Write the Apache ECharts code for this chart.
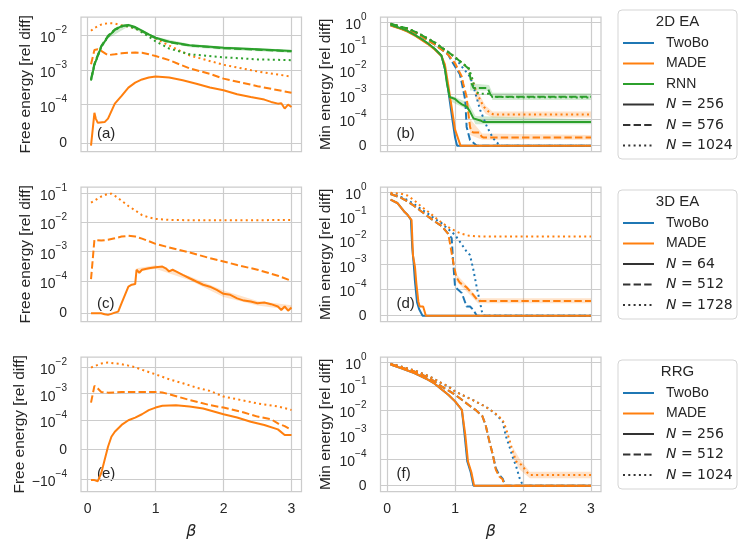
<!DOCTYPE html>
<html>
<head>
<meta charset="utf-8">
<script src="https://cdn.jsdelivr.net/npm/echarts@6/dist/echarts.min.js"></script>
<style>
html, body { margin: 0; padding: 0; background: #fff; }
#chart { width: 747px; height: 550px; }
</style>
</head>
<body>
<div id="chart"></div>
<script>
// ---- data: [beta, relative difference] ----
var xTicks = [0, 1, 2, 3];
var yTicksA = [0, 1e-4, 1e-3, 1e-2];
var yTicksB = [0, 1e-4, 1e-3, 1e-2, 1e-1, 1];
var yTicksC = [0, 1e-4, 1e-3, 1e-2, 1e-1];
var yTicksE = [-1e-4, 0, 1e-4, 1e-3, 1e-2];

// (a) 2D EA free energy
var a_MADE_256 = [[0.05,-6e-6],[0.1,7.9e-5],[0.12,6.4e-5],[0.15,5.3e-5],[0.25,5.5e-5],[0.3,6.4e-5],[0.4,1.07e-4],[0.5,1.8e-4],[0.6,3.1e-4],[0.7,4.3e-4],[0.8,5.3e-4],[0.9,6e-4],[1.0,6.4e-4],[1.2,6e-4],[1.4,5e-4],[1.6,4e-4],[1.8,3.1e-4],[2.0,2.6e-4],[2.2,2e-4],[2.4,1.66e-4],[2.6,1.4e-4],[2.7,1.2e-4],[2.8,1.07e-4],[2.85,1.1e-4],[2.9,9e-5],[2.95,1e-4],[3.0,9.4e-5]];
var a_MADE_576 = [[0.05,1.46e-3],[0.1,3.7e-3],[0.15,3.9e-3],[0.2,3.5e-3],[0.3,2.65e-3],[0.4,2.8e-3],[0.5,3e-3],[0.6,3.1e-3],[0.7,3.15e-3],[0.8,3.1e-3],[0.9,2.8e-3],[1.0,2.5e-3],[1.2,1.9e-3],[1.5,1.1e-3],[1.8,7.7e-4],[2.0,5.6e-4],[2.5,3.4e-4],[3.0,2.2e-4]];
var a_MADE_1024 = [[0.05,1.33e-2],[0.1,1.6e-2],[0.2,2e-2],[0.3,2.2e-2],[0.4,2.15e-2],[0.5,1.9e-2],[0.6,1.75e-2],[0.7,1.55e-2],[0.8,1.25e-2],[0.9,1e-2],[1.0,8e-3],[1.2,5e-3],[1.5,2.6e-3],[2.0,1.4e-3],[2.5,9e-4],[3.0,6.4e-4]];
var a_RNN_256 = [[0.05,5e-4],[0.1,1.4e-3],[0.2,4.6e-3],[0.3,9e-3],[0.4,1.4e-2],[0.5,1.8e-2],[0.6,1.95e-2],[0.7,1.7e-2],[0.8,1.35e-2],[0.9,1.05e-2],[1.0,8.4e-3],[1.2,6.4e-3],[1.5,5.1e-3],[2.0,4.3e-3],[2.5,3.9e-3],[3.0,3.5e-3]];
var a_RNN_576 = [[0.05,5.5e-4],[0.1,1.5e-3],[0.2,4.8e-3],[0.3,9.5e-3],[0.4,1.45e-2],[0.5,1.85e-2],[0.6,1.9e-2],[0.7,1.65e-2],[0.8,1.3e-2],[0.9,1.02e-2],[1.0,8.2e-3],[1.2,6.2e-3],[1.5,5e-3],[2.0,4.2e-3],[2.5,3.8e-3],[3.0,3.4e-3]];
var a_RNN_1024 = [[0.05,5e-4],[0.1,1.4e-3],[0.2,4.5e-3],[0.3,9e-3],[0.4,1.4e-2],[0.5,1.75e-2],[0.6,1.8e-2],[0.7,1.55e-2],[0.8,1.2e-2],[0.9,9e-3],[1.0,6.6e-3],[1.2,4.1e-3],[1.5,2.8e-3],[2.0,2.3e-3],[2.5,2e-3],[3.0,1.9e-3]];
var a_RNN_band = [[0.3,8e-3,1.05e-2],[0.6,1.75e-2,2.1e-2],[1.0,7.4e-3,9e-3],[1.5,4.5e-3,5.5e-3],[2.0,3.8e-3,4.7e-3],[3.0,3.1e-3,3.8e-3]];

// (b) 2D EA min energy
var b_TwoBo_256 = [[0.05,0.75],[0.2,0.55],[0.3,0.42],[0.4,0.3],[0.5,0.2],[0.6,0.13],[0.7,0.078],[0.8,0.04],[0.85,0.012],[0.9,1.5e-3],[0.95,1.5e-4],[1.0,3e-5],[1.03,0],[3.0,0]];
var b_TwoBo_576 = [[0.05,0.85],[0.2,0.63],[0.3,0.5],[0.4,0.38],[0.5,0.27],[0.6,0.18],[0.7,0.12],[0.8,0.075],[0.9,0.045],[0.95,0.025],[1.0,0.0146],[1.07,7e-3],[1.1,3e-3],[1.15,6e-4],[1.17,7e-5],[1.22,2.1e-5],[1.32,0],[3.0,0]];
var b_TwoBo_1024 = [[0.05,0.88],[0.2,0.66],[0.3,0.55],[0.4,0.42],[0.5,0.3],[0.6,0.21],[0.7,0.145],[0.8,0.09],[0.9,0.058],[1.0,0.034],[1.1,0.0146],[1.22,5.6e-3],[1.27,2.2e-3],[1.37,2.3e-4],[1.47,7e-5],[1.56,2.75e-5],[1.66,0],[3.0,0]];
var b_MADE_256 = [[0.05,0.73],[0.2,0.54],[0.3,0.41],[0.4,0.29],[0.5,0.19],[0.6,0.125],[0.7,0.075],[0.8,0.04],[0.85,0.018],[0.9,2.5e-3],[0.95,3e-4],[1.0,6e-5],[1.08,0],[3.0,0]];
var b_MADE_576 = [[0.05,0.85],[0.2,0.63],[0.3,0.5],[0.4,0.38],[0.5,0.27],[0.6,0.18],[0.7,0.12],[0.8,0.075],[0.9,0.045],[1.0,0.02],[1.1,5.6e-3],[1.12,2.9e-3],[1.17,8.3e-4],[1.19,2.3e-4],[1.22,7e-5],[1.24,5.2e-5],[1.27,4.9e-5],[1.36,4.9e-5],[1.39,3.4e-5],[1.42,3e-5],[3.0,3e-5]];
var b_MADE_1024 = [[0.05,0.88],[0.2,0.66],[0.3,0.55],[0.4,0.42],[0.5,0.3],[0.6,0.21],[0.7,0.145],[0.8,0.09],[0.9,0.058],[1.0,0.036],[1.1,0.021],[1.2,0.012],[1.22,6.6e-3],[1.27,3e-3],[1.32,1.2e-3],[1.37,6e-4],[1.42,3.2e-4],[1.47,2.3e-4],[1.52,1.7e-4],[1.57,1.5e-4],[3.0,1.5e-4]];
var b_RNN_256 = [[0.05,0.78],[0.2,0.57],[0.3,0.44],[0.4,0.31],[0.5,0.21],[0.6,0.135],[0.7,0.08],[0.8,0.042],[0.85,0.012],[0.88,3e-3],[0.92,8e-4],[1.0,6.6e-4],[1.05,5e-4],[1.1,4e-4],[1.17,3.2e-4],[1.22,2e-4],[1.27,1.05e-4],[1.37,9.4e-5],[1.42,8.8e-5],[3.0,8.8e-5]];
var b_RNN_576 = [[0.05,0.88],[0.2,0.66],[0.3,0.55],[0.4,0.42],[0.5,0.3],[0.6,0.21],[0.7,0.145],[0.8,0.09],[0.9,0.058],[1.0,0.036],[1.1,0.021],[1.2,0.012],[1.24,3e-3],[1.27,1.9e-3],[1.48,1.9e-3],[1.52,1e-3],[1.56,8.3e-4],[3.0,8.3e-4]];
var b_RNN_1024 = [[0.05,0.88],[0.2,0.66],[0.3,0.55],[0.4,0.42],[0.5,0.3],[0.6,0.21],[0.7,0.145],[0.8,0.09],[0.9,0.058],[1.0,0.036],[1.1,0.021],[1.2,0.013],[1.25,5e-3],[1.3,1.5e-3],[1.35,1.1e-3],[1.5,1.1e-3],[1.55,8e-4],[3.0,7.7e-4]];
var b_RNN_band_256 = [[0.95,5e-4,9e-4],[1.2,2.3e-4,4.5e-4],[1.3,8e-5,1.3e-4],[3.0,8e-5,9.8e-5]];
var b_RNN_band_big = [[1.22,1.5e-3,3e-3],[1.5,1.5e-3,2.5e-3],[1.55,6e-4,1.2e-3],[3.0,6e-4,1.15e-3]];
var b_MADE_band_1024 = [[1.3,7e-4,2e-3],[1.45,1.6e-4,3.5e-4],[1.55,1.15e-4,2e-4],[3.0,1.15e-4,2e-4]];
var b_MADE_band_576 = [[1.22,4e-5,1e-4],[1.4,2.2e-5,4.5e-5],[3.0,2.2e-5,4e-5]];

// (c) 3D EA free energy
var c_MADE_64 = [[0.05,0],[0.2,0],[0.25,-3e-6],[0.3,-5e-6],[0.35,-2e-6],[0.4,2e-6],[0.45,5e-6],[0.5,3.1e-5],[0.55,5.7e-5],[0.6,8.2e-5],[0.65,8.8e-5],[0.7,9e-5],[0.72,2.4e-4],[0.76,1.9e-4],[0.8,2.4e-4],[0.9,2.7e-4],[1.0,2.95e-4],[1.1,3.1e-4],[1.15,2.7e-4],[1.2,2.1e-4],[1.25,2.4e-4],[1.3,2.1e-4],[1.4,1.6e-4],[1.5,1.23e-4],[1.6,9.8e-5],[1.7,8.8e-5],[1.8,8.2e-5],[1.9,7.2e-5],[2.0,6e-5],[2.1,5.7e-5],[2.2,4.6e-5],[2.3,3.9e-5],[2.4,3.6e-5],[2.5,3.1e-5],[2.6,3.3e-5],[2.7,2.8e-5],[2.8,2.1e-5],[2.85,1e-5],[2.9,2.1e-5],[2.95,8e-6],[3.0,1.75e-5]];
var c_MADE_512 = [[0.05,1.14e-4],[0.1,2.55e-3],[0.12,2.9e-3],[0.2,2.4e-3],[0.3,2.55e-3],[0.4,2.9e-3],[0.5,3.3e-3],[0.6,3.5e-3],[0.7,3.3e-3],[0.8,2.8e-3],[0.9,2.3e-3],[1.0,1.85e-3],[1.2,1.4e-3],[1.5,9.4e-4],[1.8,6e-4],[2.0,4.6e-4],[2.2,3.5e-4],[2.5,2.4e-4],[2.8,1.5e-4],[3.0,1e-4]];
var c_MADE_1728 = [[0.05,4.85e-2],[0.1,5.6e-2],[0.2,7.8e-2],[0.3,9.7e-2],[0.35,9.8e-2],[0.4,8.3e-2],[0.5,5.6e-2],[0.6,3.7e-2],[0.7,2.6e-2],[0.8,1.8e-2],[0.9,1.5e-2],[1.0,1.33e-2],[1.2,1.23e-2],[1.5,1.2e-2],[2.0,1.2e-2],[2.5,1.2e-2],[3.0,1.23e-2]];
var c_MADE_band_64 = [[0.72,2e-4,2.7e-4],[1.0,2.6e-4,3.4e-4],[1.5,1.05e-4,1.45e-4],[2.0,5e-5,7e-5],[2.5,2.4e-5,3.8e-5],[3.0,1e-5,2.5e-5]];

// (d) 3D EA min energy
var d_TwoBo_64 = [[0.05,0.5],[0.15,0.36],[0.25,0.16],[0.3,0.117],[0.35,0.073],[0.37,5e-3],[0.39,1.2e-3],[0.41,2e-4],[0.44,5e-5],[0.47,2.5e-5],[0.52,0],[3.0,0]];
var d_TwoBo_512 = [[0.05,0.85],[0.2,0.6],[0.3,0.42],[0.4,0.27],[0.5,0.165],[0.6,0.1],[0.7,0.062],[0.8,0.04],[0.85,0.028],[0.9,0.019],[0.95,0.0125],[0.97,1.5e-3],[1.0,1.2e-4],[1.02,1.09e-4],[1.1,8.4e-5],[1.17,3.4e-5],[1.22,3.4e-5],[1.27,2.1e-5],[1.32,0],[3.0,0]];
var d_TwoBo_1728 = [[0.05,0.9],[0.2,0.65],[0.3,0.48],[0.4,0.32],[0.5,0.2],[0.6,0.13],[0.7,0.08],[0.8,0.053],[0.9,0.03],[1.0,0.017],[1.07,9e-3],[1.17,3.5e-3],[1.22,2.5e-3],[1.27,6e-4],[1.32,1.1e-4],[1.37,4.6e-5],[1.4,9e-6],[1.43,0],[3.0,0]];
var d_MADE_64 = [[0.05,0.5],[0.15,0.36],[0.25,0.16],[0.3,0.117],[0.36,0.07],[0.38,2.5e-3],[0.41,8e-4],[0.43,1.7e-4],[0.46,5.2e-5],[0.48,3.4e-5],[0.53,3.4e-5],[0.57,0],[3.0,0]];
var d_MADE_512 = [[0.05,0.85],[0.2,0.6],[0.3,0.42],[0.4,0.27],[0.5,0.165],[0.6,0.1],[0.7,0.062],[0.8,0.04],[0.85,0.028],[0.9,0.019],[0.95,3e-3],[0.98,1e-3],[1.02,3e-4],[1.07,1.8e-4],[1.17,1.15e-4],[1.27,7.7e-5],[1.34,5.5e-5],[3.0,5.5e-5]];
var d_MADE_1728 = [[0.05,0.95],[0.2,0.88],[0.3,0.73],[0.4,0.46],[0.5,0.26],[0.6,0.16],[0.7,0.094],[0.8,0.056],[0.9,0.036],[1.0,0.025],[1.1,0.019],[1.2,0.016],[1.3,0.015],[1.5,0.0146],[3.0,0.0146]];
var d_MADE_band_512 = [[1.02,2e-4,4e-4],[1.17,9e-5,1.4e-4],[1.34,4.6e-5,6.5e-5],[3.0,4.6e-5,6.5e-5]];

// (e) RRG free energy
var e_MADE_256 = [[0.05,-1.09e-4],[0.1,-1.09e-4],[0.15,-1.2e-4],[0.2,-8e-5],[0.25,-3.5e-5],[0.3,1e-5],[0.35,4.4e-5],[0.4,6.1e-5],[0.5,8.4e-5],[0.6,1e-4],[0.7,1.26e-4],[0.8,1.68e-4],[0.9,2.4e-4],[1.0,3e-4],[1.1,3.5e-4],[1.3,3.7e-4],[1.5,3.3e-4],[1.7,2.75e-4],[2.0,1.68e-4],[2.2,1.26e-4],[2.4,9.5e-5],[2.6,8.4e-5],[2.8,6.9e-5],[2.9,5e-5],[3.0,5e-5]];
var e_MADE_512 = [[0.05,4.6e-4],[0.1,1.98e-3],[0.15,1.57e-3],[0.2,1.17e-3],[0.3,1.1e-3],[0.5,1.15e-3],[0.8,1.15e-3],[1.0,1.15e-3],[1.1,1.12e-3],[1.2,9.6e-4],[1.5,5.8e-4],[1.8,3.7e-4],[2.0,3e-4],[2.3,1.95e-4],[2.5,1.37e-4],[2.7,1.09e-4],[2.8,8.9e-5],[2.9,8e-5],[3.0,6.7e-5]];
var e_MADE_1024 = [[0.05,9.7e-3],[0.1,1.1e-2],[0.2,1.37e-2],[0.3,1.5e-2],[0.4,1.4e-2],[0.5,1.3e-2],[0.6,1.15e-2],[0.7,1e-2],[0.8,8e-3],[1.0,5.4e-3],[1.2,3.5e-3],[1.4,2.5e-3],[1.6,1.7e-3],[1.8,1.28e-3],[2.0,7.8e-4],[2.2,6.2e-4],[2.5,4.3e-4],[2.8,3.3e-4],[3.0,2.45e-4]];

// (f) RRG min energy
var f_TwoBo_256 = [[0.05,0.8],[0.2,0.58],[0.4,0.36],[0.6,0.19],[0.7,0.13],[0.8,0.077],[0.9,0.045],[1.0,0.024],[1.1,0.0107],[1.14,1e-3],[1.18,9e-5],[1.23,5e-5],[1.27,0],[3.0,0]];
var f_TwoBo_512 = [[0.05,0.85],[0.2,0.62],[0.4,0.42],[0.6,0.24],[0.7,0.16],[0.8,0.1],[0.9,0.068],[1.0,0.045],[1.1,0.028],[1.2,0.017],[1.3,0.0107],[1.4,6e-3],[1.45,2.5e-3],[1.5,6e-4],[1.55,1.7e-4],[1.6,6.5e-5],[1.65,4e-5],[1.7,2.6e-5],[1.74,0],[3.0,0]];
var f_TwoBo_1024 = [[0.05,0.88],[0.2,0.68],[0.4,0.46],[0.6,0.28],[0.7,0.2],[0.8,0.138],[0.9,0.1],[1.0,0.062],[1.1,0.045],[1.2,0.033],[1.3,0.024],[1.4,0.017],[1.5,0.0118],[1.6,7e-3],[1.7,3.5e-3],[1.75,8.3e-4],[1.8,3.2e-4],[1.85,1.15e-4],[1.9,7.1e-5],[1.95,2.75e-5],[2.0,0],[3.0,0]];
var f_MADE_256 = [[0.05,0.8],[0.2,0.58],[0.4,0.36],[0.6,0.19],[0.7,0.13],[0.8,0.077],[0.9,0.045],[1.0,0.024],[1.1,0.0107],[1.15,1e-3],[1.19,9e-5],[1.24,5e-5],[1.28,0],[3.0,0]];
var f_MADE_512 = [[0.05,0.85],[0.2,0.62],[0.4,0.42],[0.6,0.24],[0.7,0.16],[0.8,0.1],[0.9,0.068],[1.0,0.045],[1.1,0.028],[1.2,0.017],[1.3,0.0107],[1.4,6e-3],[1.45,2.5e-3],[1.5,6e-4],[1.55,1.7e-4],[1.6,5.9e-5],[1.65,3.4e-5],[1.7,2.4e-5],[1.72,0],[3.0,0]];
var f_MADE_1024 = [[0.05,0.88],[0.2,0.68],[0.4,0.46],[0.6,0.28],[0.7,0.2],[0.8,0.138],[0.9,0.1],[1.0,0.062],[1.1,0.045],[1.2,0.033],[1.3,0.024],[1.4,0.017],[1.5,0.0118],[1.6,7.3e-3],[1.7,4.1e-3],[1.75,1.8e-3],[1.8,6e-4],[1.85,2e-4],[1.9,9e-5],[1.95,8.4e-5],[2.0,7.1e-5],[2.05,5.2e-5],[2.1,4e-5],[3.0,4e-5]];
var f_MADE_band_1024 = [[1.85,1.2e-4,3e-4],[1.95,6e-5,1e-4],[2.1,2.75e-5,5.2e-5],[3.0,2.75e-5,5.2e-5]];

// ---- symlog scale (linthresh 1e-4, linscale 1), like matplotlib ----
var LT = 1e-4, LS = 1 / (1 - 1 / 10);
function symlog(v) {
    var a = Math.abs(v);
    if (a <= LT) return v / LT * LS;
    return (v < 0 ? -1 : 1) * (LS + Math.log10(a / LT));
}
function tickText(v) {
    if (v === 0) return '0';
    var e = Math.round(Math.log10(Math.abs(v)));
    var exp = e < 0 ? '\u2212' + (-e) : '' + e;
    return '{b|' + (v < 0 ? '\u221210' : '10') + '}{s|' + exp + '}';
}

var COLORS = { TwoBo: '#1f77b4', MADE: '#ff7f0e', RNN: '#2ca02c' };
var DASH = { solid: 'solid', dashed: [7.4, 3.2], dotted: [2, 3.3] };
var TXT = '#262626';
var FONT = '"Liberation Sans", Arial, sans-serif';

var panels = [
    { ticks: yTicksA, range: [-0.24, 3.63], label: '(a)', name: 'Free energy [rel diff]',
      lines: [[a_MADE_256,'MADE','solid'],[a_MADE_576,'MADE','dashed'],[a_MADE_1024,'MADE','dotted'],
              [a_RNN_256,'RNN','solid'],[a_RNN_576,'RNN','dashed'],[a_RNN_1024,'RNN','dotted']],
      bands: [[a_RNN_band,'RNN']] },
    { ticks: yTicksB, range: [-0.25, 5.33], label: '(b)', name: 'Min energy [rel diff]',
      lines: [[b_TwoBo_256,'TwoBo','solid'],[b_TwoBo_576,'TwoBo','dashed'],[b_TwoBo_1024,'TwoBo','dotted'],
              [b_MADE_256,'MADE','solid'],[b_MADE_576,'MADE','dashed'],[b_MADE_1024,'MADE','dotted'],
              [b_RNN_256,'RNN','solid'],[b_RNN_576,'RNN','dashed'],[b_RNN_1024,'RNN','dotted']],
      bands: [[b_RNN_band_256,'RNN'],[b_RNN_band_big,'RNN'],[b_MADE_band_1024,'MADE'],[b_MADE_band_576,'MADE']] },
    { ticks: yTicksC, range: [-0.29, 4.33], label: '(c)', name: 'Free energy [rel diff]',
      lines: [[c_MADE_64,'MADE','solid'],[c_MADE_512,'MADE','dashed'],[c_MADE_1728,'MADE','dotted']],
      bands: [[c_MADE_band_64,'MADE']] },
    { ticks: yTicksB, range: [-0.25, 5.33], label: '(d)', name: 'Min energy [rel diff]',
      lines: [[d_TwoBo_64,'TwoBo','solid'],[d_TwoBo_512,'TwoBo','dashed'],[d_TwoBo_1728,'TwoBo','dotted'],
              [d_MADE_64,'MADE','solid'],[d_MADE_512,'MADE','dashed'],[d_MADE_1728,'MADE','dotted']],
      bands: [[d_MADE_band_512,'MADE']] },
    { ticks: yTicksE, range: [-1.586, 3.497], label: '(e)', name: 'Free energy [rel diff]',
      lines: [[e_MADE_256,'MADE','solid'],[e_MADE_512,'MADE','dashed'],[e_MADE_1024,'MADE','dotted']],
      bands: [] },
    { ticks: yTicksB, range: [-0.25, 5.33], label: '(f)', name: 'Min energy [rel diff]',
      lines: [[f_TwoBo_256,'TwoBo','solid'],[f_TwoBo_512,'TwoBo','dashed'],[f_TwoBo_1024,'TwoBo','dotted'],
              [f_MADE_256,'MADE','solid'],[f_MADE_512,'MADE','dashed'],[f_MADE_1024,'MADE','dotted']],
      bands: [[f_MADE_band_1024,'MADE']] }
];

var colLeft = [81, 380.5], colWidth = 220.5;
var rowTop = [17, 187, 357], rowHeight = 134.7;

var grids = [], xAxes = [], yAxes = [], series = [], graphics = [];

panels.forEach(function (p, i) {
    var col = i % 2, row = Math.floor(i / 2);
    var bottomRow = row === 2;
    grids.push({ left: colLeft[col], top: rowTop[row], width: colWidth, height: rowHeight,
        show: true, borderColor: '#cccccc', borderWidth: 1.25, backgroundColor: 'transparent' });
    xAxes.push({
        type: 'value', gridIndex: i, min: -0.0975, max: 3.1475,
        axisLine: { show: false }, axisTick: { show: false, customValues: xTicks },
        axisLabel: { show: bottomRow, customValues: xTicks, color: TXT, fontSize: 14, fontFamily: FONT, margin: 10 },
        splitLine: { show: true, lineStyle: { color: '#cccccc', width: 1.2 } },
        name: bottomRow ? '\u03b2' : '', nameLocation: 'middle', nameGap: 32,
        nameTextStyle: { color: TXT, fontSize: 16, fontStyle: 'italic', fontFamily: '"DejaVu Sans"' }
    });
    var tv = p.ticks.map(symlog);
    yAxes.push({
        type: 'value', gridIndex: i, min: p.range[0], max: p.range[1],
        axisLine: { show: false }, axisTick: { show: false, customValues: tv },
        axisLabel: {
            customValues: tv, color: TXT, fontSize: 14, fontFamily: FONT, margin: 14,
            formatter: function (val) {
                for (var k = 0; k < p.ticks.length; k++) {
                    if (Math.abs(tv[k] - val) < 1e-6) return tickText(p.ticks[k]);
                }
                return '';
            },
            rich: {
                b: { fontSize: 14, lineHeight: 20, verticalAlign: 'bottom', color: TXT, fontFamily: FONT },
                s: { fontSize: 10, lineHeight: 10, verticalAlign: 'top', color: TXT, fontFamily: FONT }
            }
        },
        splitLine: { show: true, lineStyle: { color: '#cccccc', width: 1.2 } },
        name: p.name, nameLocation: 'middle', nameGap: 47,
        nameTextStyle: { color: TXT, fontSize: 15.5, fontFamily: FONT }
    });

    p.bands.forEach(function (b) {
        var band = b[0], color = COLORS[b[1]];
        series.push({
            type: 'custom', xAxisIndex: i, yAxisIndex: i, silent: true, z: 1,
            data: [[1, 1]],
            renderItem: function (params, api) {
                var up = band.map(function (q) { return api.coord([q[0], symlog(q[2])]); });
                var lo = band.slice().reverse().map(function (q) { return api.coord([q[0], symlog(q[1])]); });
                return { type: 'polygon', shape: { points: up.concat(lo) },
                         style: { fill: color, opacity: 0.22 } };
            }
        });
    });
    p.lines.forEach(function (l, k) {
        series.push({
            type: 'line', xAxisIndex: i, yAxisIndex: i, symbol: 'none', silent: true,
            z: 2 + k,
            data: l[0].map(function (q) { return [q[0], symlog(q[1])]; }),
            lineStyle: { color: COLORS[l[1]], width: 2, type: DASH[l[2]] }
        });
    });

    graphics.push({
        type: 'text', left: colLeft[col] + 16, top: rowTop[row] + 109,
        style: { text: p.label, fill: TXT, font: '15px ' + FONT }
    });
});

// ---- legend boxes ----
function legendBox(top, height, title, entries) {
    var g = [{ type: 'rect', shape: { x: 618, y: top, width: 119, height: height, r: 4 },
               style: { fill: '#fff', stroke: '#d5d5d5', lineWidth: 1 }, z: 10 },
             { type: 'text', z: 11, style: { x: 677.5, y: top + 12, text: title, fill: TXT,
               font: '15px ' + FONT, align: 'center', verticalAlign: 'middle' } }];
    entries.forEach(function (e, k) {
        var y = top + 33 + k * 20.5;
        g.push({ type: 'line', z: 11, shape: { x1: 623, y1: y, x2: 654, y2: y },
                 style: { stroke: e.color || '#333333', lineWidth: 2, lineDash: e.dash ? DASH[e.dash] : null } });
        if (e.n) {
            g.push({ type: 'text', z: 11, style: { x: 666, y: y, text: '{i|N}{r| = ' + e.n + '}',
                     verticalAlign: 'middle', fill: TXT,
                     rich: { i: { fontSize: 14, fontStyle: 'italic', fontFamily: '"DejaVu Sans"', fill: TXT },
                             r: { fontSize: 14, fontFamily: '"DejaVu Sans"', fill: TXT } } } });
        } else {
            g.push({ type: 'text', z: 11, style: { x: 666, y: y, text: e.text, fill: TXT,
                     font: '14px ' + FONT, verticalAlign: 'middle' } });
        }
    });
    return g;
}
graphics = graphics.concat(
    legendBox(10, 149, '2D EA', [
        { text: 'TwoBo', color: COLORS.TwoBo }, { text: 'MADE', color: COLORS.MADE }, { text: 'RNN', color: COLORS.RNN },
        { n: '256', dash: 'solid' }, { n: '576', dash: 'dashed' }, { n: '1024', dash: 'dotted' }]),
    legendBox(190, 129, '3D EA', [
        { text: 'TwoBo', color: COLORS.TwoBo }, { text: 'MADE', color: COLORS.MADE },
        { n: '64', dash: 'solid' }, { n: '512', dash: 'dashed' }, { n: '1728', dash: 'dotted' }]),
    legendBox(360, 129, 'RRG', [
        { text: 'TwoBo', color: COLORS.TwoBo }, { text: 'MADE', color: COLORS.MADE },
        { n: '256', dash: 'solid' }, { n: '512', dash: 'dashed' }, { n: '1024', dash: 'dotted' }])
);

var chart = echarts.init(document.getElementById('chart'));
chart.setOption({
    animation: false,
    backgroundColor: '#ffffff',
    grid: grids,
    xAxis: xAxes,
    yAxis: yAxes,
    series: series,
    graphic: graphics
});
</script>
</body>
</html>
